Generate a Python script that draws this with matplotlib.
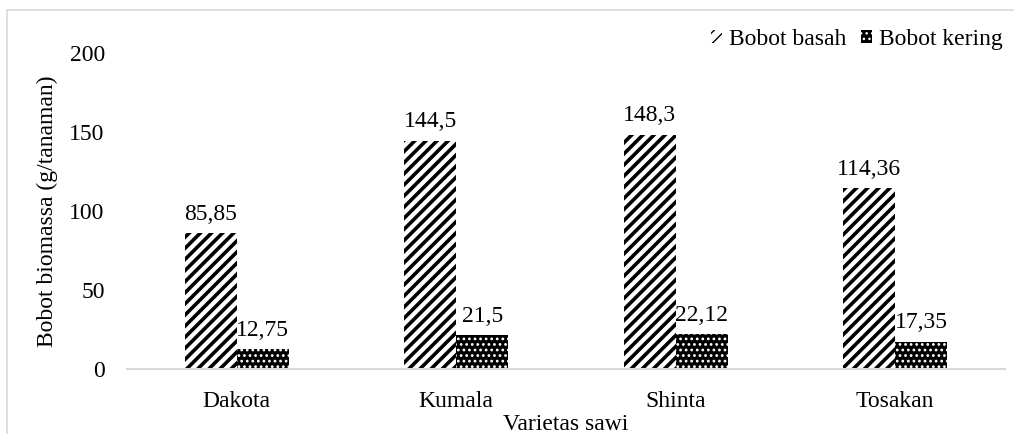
import matplotlib.pyplot as plt
import numpy as np
from matplotlib.lines import Line2D

plt.rcParams['font.family'] = ['Liberation Serif', 'DejaVu Serif']

varietas = ['Dakota', 'Kumala', 'Shinta', 'Tosakan']
bobot_basah = [85.85, 144.5, 148.3, 114.36]
bobot_kering = [12.75, 21.5, 22.12, 17.35]
label_basah = ['85,85', '144,5', '148,3', '114,36']
label_kering = ['12,75', '21,5', '22,12', '17,35']

FS = 17

fig = plt.figure(figsize=(10.15, 4.34), dpi=100)
ax = fig.add_axes([0.1251, 0.1498, 0.865, 0.728])

x = np.arange(len(varietas))
w = 0.237

with plt.rc_context({'hatch.linewidth': 2.6}):
    b1 = ax.bar(x - w / 2, bobot_basah, w, color='white', edgecolor='black',
                hatch='///', linewidth=0, label='Bobot basah')
with plt.rc_context({'hatch.linewidth': 1.2}):
    b2 = ax.bar(x + w / 2, bobot_kering, w, color='black', edgecolor='white',
                hatch='...', linewidth=0, label='Bobot kering')

for bars, labels in ((b1, label_basah), (b2, label_kering)):
    for rect, txt in zip(bars, labels):
        ax.annotate(txt, (rect.get_x() + rect.get_width() / 2, rect.get_height()),
                    xytext=(0, 6), textcoords='offset points',
                    ha='center', va='bottom', fontsize=FS)

ax.set_xlim(-0.5, len(varietas) - 0.5)
ax.set_ylim(0, 200)
ax.set_yticks([0, 50, 100, 150, 200])
ax.set_xticks(x)
ax.set_xticklabels(varietas)
ax.tick_params(length=0, labelsize=FS, colors='#000000')
ax.tick_params(axis='y', pad=16)
ax.tick_params(axis='x', pad=16)

for s in ['top', 'right', 'left']:
    ax.spines[s].set_visible(False)
ax.spines['bottom'].set_color('#d9d9d9')
ax.spines['bottom'].set_linewidth(1.5)

ax.set_ylabel('Bobot biomassa (g/tanaman)', fontsize=FS, labelpad=8)
ax.set_xlabel('Varietas sawi', fontsize=FS, labelpad=1)

leg = ax.legend(loc='upper right', bbox_to_anchor=(0.998, 1.077), ncol=2,
                frameon=False, fontsize=FS, handlelength=0.45, handleheight=0.45,
                handletextpad=0.33, columnspacing=0.6, borderaxespad=0,
                borderpad=0)

# chart area outline (top and left edges)
fig.add_artist(Line2D([7 / 1015, 1013 / 1015], [1 - 10 / 434, 1 - 10 / 434],
                      color='#d9d9d9', lw=1.2, transform=fig.transFigure))
fig.add_artist(Line2D([7 / 1015, 7 / 1015], [1 - 10 / 434, 0],
                      color='#d9d9d9', lw=1.2, transform=fig.transFigure))

fig.savefig('out.png', dpi=100)
